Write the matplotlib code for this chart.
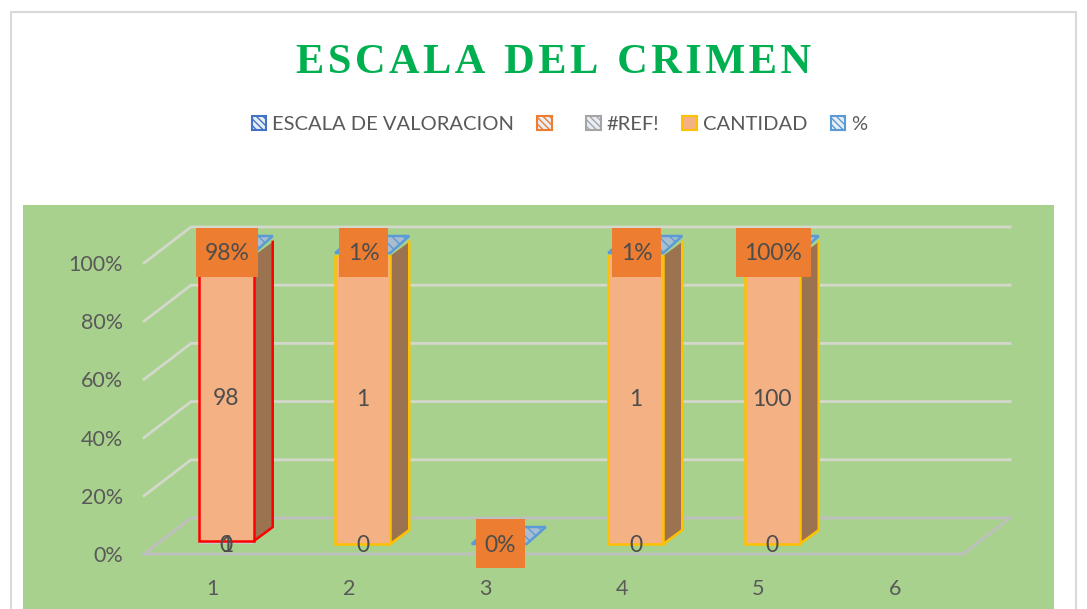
import matplotlib
matplotlib.use('Agg')
import matplotlib.pyplot as plt
from matplotlib.patches import Patch, Polygon, Rectangle

plt.rcParams['font.family'] = ['Lato', 'DejaVu Sans']

W, H = 1087, 609

categories = [1, 2, 3, 4, 5, 6]
escala = [1, 0, 0, 0, 0, 0]
cantidad = [98, 1, 0, 1, 100, 0]
porcentaje = [0.98, 0.01, 0, 0.01, 1, 0]
pct_labels = ['98%', '1%', '0%', '1%', '100%', None]
edge_colors = ['#ff0000', '#ffc000', '#ffc000', '#ffc000', '#ffc000', None]
y_ticks = [0, 20, 40, 60, 80, 100]
legend_labels = ['ESCALA DE VALORACION', ' ', '#REF!', 'CANTIDAD', '%']
legend_colors = ['#4472c4', '#ed7d31', '#a5a5a5', '#f4b183', '#5b9bd5']

TEXT = '#595959'
LABEL = '#4d4d4d'
LABEL_SIZE = 16.5

fig = plt.figure(figsize=(W / 100, H / 100), dpi=100)
fig.patch.set_facecolor('white')


def fig_rect(x0, y0, x1, y1, **kw):
    # pixel box measured from the top left of the picture
    fig.add_artist(Rectangle((x0 / W, 1 - y1 / H), (x1 - x0) / W, (y1 - y0) / H,
                             transform=fig.transFigure, zorder=-1, **kw))


fig_rect(11, 12, 1076, 640, facecolor='white', edgecolor='#d9d9d9', linewidth=1.5)
fig_rect(23, 205, 1054, 640, facecolor='#a9d18e', edgecolor='none')

# front plane of the 3D box
left, right, top, bottom = 144, 963, 263, 554
ax = fig.add_axes([left / W, 1 - bottom / H, (right - left) / W, (bottom - top) / H])
ax.patch.set_alpha(0)
ax.set_xlim(0.5, 6.5)
ax.set_ylim(0, 100)
for s in ax.spines.values():
    s.set_visible(False)

px_x = 6 / (right - left)
px_y = 100 / (bottom - top)

ax.set_xticks(categories)
ax.set_xticklabels(categories)
ax.set_yticks(y_ticks)
ax.set_yticklabels([f'{t}%' for t in y_ticks])
ax.tick_params(axis='both', length=0, labelsize=15.5, labelcolor=TEXT)
ax.tick_params(axis='x', pad=18)
ax.tick_params(axis='y', pad=15)

# walls and floor
dep_x, dep_y = 47 * px_x, 36 * px_y
for t in y_ticks:
    col = '#bfbfbf' if t == 0 else '#d4d8ca'
    ax.plot([0.5, 0.5 + dep_x, 6.5 + dep_x], [t, t + dep_y, t + dep_y],
            color=col, lw=2, clip_on=False, zorder=1)
ax.plot([0.5, 6.5, 6.5 + dep_x], [0, 0, dep_y], color='#bfbfbf', lw=2,
        clip_on=False, zorder=1)

# bars, offset into the depth of the box
off_x, off_y = 14 * px_x, 10 * px_y
bar_w = 55 * px_x
bar_dx, bar_dy = 19 * px_x, 14 * px_y
lid_dy = 17 * px_y
box_h = 49 * px_y
pad_x = 8.5

renderer = fig.canvas.get_renderer()
for i, cat in enumerate(categories[:5]):
    total = escala[i] + cantidad[i] + porcentaje[i]
    share = 100 / total if total else 0
    base = escala[i] * share + off_y
    seg_top = base + cantidad[i] * share
    bar_top = seg_top + porcentaje[i] * share
    if total == 0:
        bar_top = off_y
    cx = cat + off_x
    x0, x1 = cx - bar_w / 2, cx + bar_w / 2

    if cantidad[i] > 0:
        if escala[i] > 0:
            ax.bar(cx, escala[i] * share, bar_w, bottom=off_y, color='#c9c9c9',
                   clip_on=False, zorder=3)
        ax.add_patch(Polygon([(x1, base), (x1 + bar_dx, base + bar_dy),
                              (x1 + bar_dx, seg_top + bar_dy), (x1, seg_top)],
                             facecolor='#9c7350', edgecolor='none',
                             clip_on=False, zorder=3))
        ax.plot([x1, x1 + bar_dx, x1 + bar_dx], [base, base + bar_dy, seg_top + bar_dy],
                color=edge_colors[i], lw=1.8, clip_on=False, zorder=3)
        ax.bar(cx, seg_top - base, bar_w, bottom=base, color='#f4b183',
               edgecolor=edge_colors[i], linewidth=1.8, clip_on=False, zorder=4)
        ax.text(cx, (base + seg_top) / 2, str(cantidad[i]), ha='center', va='center',
                fontsize=LABEL_SIZE, color=LABEL, zorder=6)

    # hatched lid from the % series
    ax.add_patch(Polygon([(x0, bar_top), (x1, bar_top), (x1 + bar_dx, bar_top + lid_dy),
                          (x0 + bar_dx, bar_top + lid_dy)],
                         facecolor='#a9bdd0', edgecolor='#5b9bd5', lw=1.8, hatch='\\\\\\',
                         clip_on=False, zorder=5))

    # zero labels at the foot of each bar
    if cantidad[i] > 0:
        ax.text(cx, off_y - 2 * px_y, '0', ha='center', va='center', fontsize=LABEL_SIZE,
                color=LABEL, zorder=6)
        if escala[i] > 0:
            ax.text(cx, off_y - 2 * px_y, str(escala[i]), ha='center', va='center',
                    fontsize=LABEL_SIZE, color=LABEL, zorder=6)

    # orange % label box
    label_y = bar_top + 1 * px_y
    txt = ax.text(cx + 1 * px_x, label_y - 2 * px_y, pct_labels[i], ha='center', va='center',
                  fontsize=LABEL_SIZE, color=LABEL, zorder=8)
    tw = txt.get_window_extent(renderer).width
    bw = (tw + 2 * pad_x) * px_x
    ax.add_patch(Rectangle((cx + 1 * px_x - bw / 2, label_y - box_h / 2), bw, box_h,
                           facecolor='#ed7d31', edgecolor='none', clip_on=False, zorder=7))

# title
fig.text(553 / W, 1 - 63 / H, 'E\u200aS\u200aC\u200aA\u200aL\u200aA  D\u200aE\u200aL  C\u200aR\u200aI\u200aM\u200aE\u200aN',
         ha='center', va='center', family='Liberation Serif', fontweight='bold',
         fontsize=30.5, color='#00b050')

# legend
handles = []
for lab, col in zip(legend_labels, legend_colors):
    if lab == 'CANTIDAD':
        handles.append(Patch(facecolor=col, edgecolor='#ffc000', lw=1.5, label=lab))
    else:
        handles.append(Patch(facecolor='#e8eef5', edgecolor=col, hatch='\\\\\\\\\\', lw=1.5, label=lab))
leg = fig.legend(handles=handles, loc='center', bbox_to_anchor=(559.5 / W, 1 - 124.5 / H),
                 ncol=5, frameon=False, fontsize=14.5, labelcolor=TEXT, handlelength=0.72,
                 handleheight=0.72, handletextpad=0.3, columnspacing=1.15)

fig.savefig('out.png', dpi=100)
